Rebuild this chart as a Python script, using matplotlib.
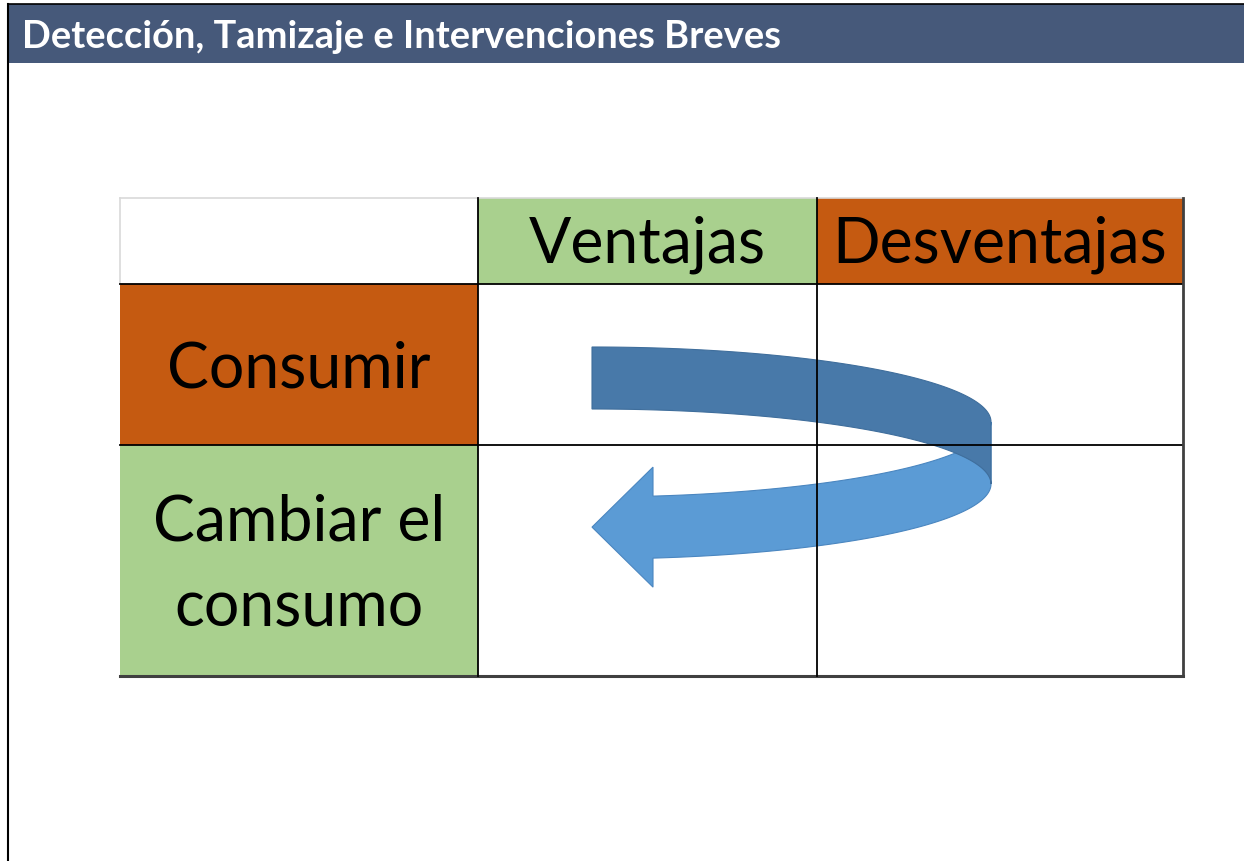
import numpy as np
import matplotlib
matplotlib.use('Agg')
from matplotlib import pyplot as plt
from matplotlib.patches import Rectangle, Polygon

# slide content
title = 'Detección, Tamizaje e Intervenciones Breves'
col_labels = ['', 'Ventajas', 'Desventajas']
row_labels = ['Consumir', 'Cambiar el\nconsumo']

# colours
bar_color = '#46597a'
green = '#a9d08e'
orange = '#c55a11'
arrow_back = '#4879a9'
arrow_front = '#5b9bd5'

# table grid in pixels
col_edges = [120, 478, 817, 1183]
row_edges = [199, 285, 446, 677]

fig = plt.figure(figsize=(12.44, 8.62), dpi=100)
ax = fig.add_axes([0, 0, 1, 1])
ax.set_xlim(0, 1244)
ax.set_ylim(862, 0)
ax.axis('off')

# title bar + slide border
ax.add_patch(Rectangle((8, 5), 1240, 59, facecolor=bar_color, edgecolor='none'))
ax.plot([8, 8], [5, 862], color='black', lw=1.5)
ax.plot([8, 1244], [5, 5], color='black', lw=1.2)
ax.text(22, 37, title, color='white', fontsize=27.4, fontweight='bold',
        family='Lato', va='center', ha='left')

# cell fills
fills = {(0, 1): green, (0, 2): orange, (1, 0): orange, (2, 0): green}
for (r, c), col in fills.items():
    ax.add_patch(Rectangle((col_edges[c], row_edges[r]),
                           col_edges[c + 1] - col_edges[c],
                           row_edges[r + 1] - row_edges[r],
                           facecolor=col, edgecolor='none'))

# borders
ax.plot([col_edges[0], col_edges[3]], [row_edges[0], row_edges[0]], color='#d9d9d9', lw=1.2)
ax.plot([col_edges[0], col_edges[0]], [row_edges[0], row_edges[1]], color='#d9d9d9', lw=1.2)
for y in row_edges[1:3]:
    ax.plot([col_edges[0], col_edges[3]], [y, y], color='black', lw=1.3)
ax.plot([col_edges[0], col_edges[3]], [row_edges[3], row_edges[3]], color='#404040', lw=2.2)
for x in col_edges[1:3]:
    ax.plot([x, x], [row_edges[0], row_edges[3]], color='black', lw=1.3)
ax.plot([col_edges[3], col_edges[3]], [row_edges[0], row_edges[3]], color='#404040', lw=2.0)

# cell text
fs = 45
for c in (1, 2):
    ax.text((col_edges[c] + col_edges[c + 1]) / 2, (row_edges[0] + row_edges[1]) / 2 + 3,
            col_labels[c], fontsize=fs, family='Lato', ha='center', va='center')
for r, lab in enumerate(row_labels):
    ax.text((col_edges[0] + col_edges[1]) / 2, (row_edges[r + 1] + row_edges[r + 2]) / 2 + 4,
            lab, fontsize=fs, family='Lato', ha='center', va='center', linespacing=1.6)

# curved arrow: ribbon around an ellipse
cx, cy, a, b, hw = 592, 454, 399, 75, 31

# front (light) band from the right side to the arrow head
t = np.linspace(0, np.arccos((653 - cx) / a), 120)
xs = cx + a * np.cos(t)
yc = cy + b * np.sin(t)
x_end, y_end = xs[-1], yc[-1]
front = np.concatenate([
    np.column_stack([xs, yc - hw]),
    [[x_end, y_end - 60], [cx, y_end], [x_end, y_end + 60]],
    np.column_stack([xs[::-1], (yc + hw)[::-1]]),
])
ax.add_patch(Polygon(front, closed=True, facecolor=arrow_front,
                     edgecolor='#4a86c0', lw=0.8))

# back (dark) band from the top left to the right side
t = np.linspace(np.pi / 2, 0, 120)
xs = cx + a * np.cos(t)
yc = cy - b * np.sin(t)
back = np.concatenate([
    np.column_stack([xs, yc - hw]),
    np.column_stack([xs[::-1], (yc + hw)[::-1]]),
])
ax.add_patch(Polygon(back, closed=True, facecolor=arrow_back,
                     edgecolor='#3f6e9c', lw=0.8))

fig.savefig('out.png', dpi=100)
